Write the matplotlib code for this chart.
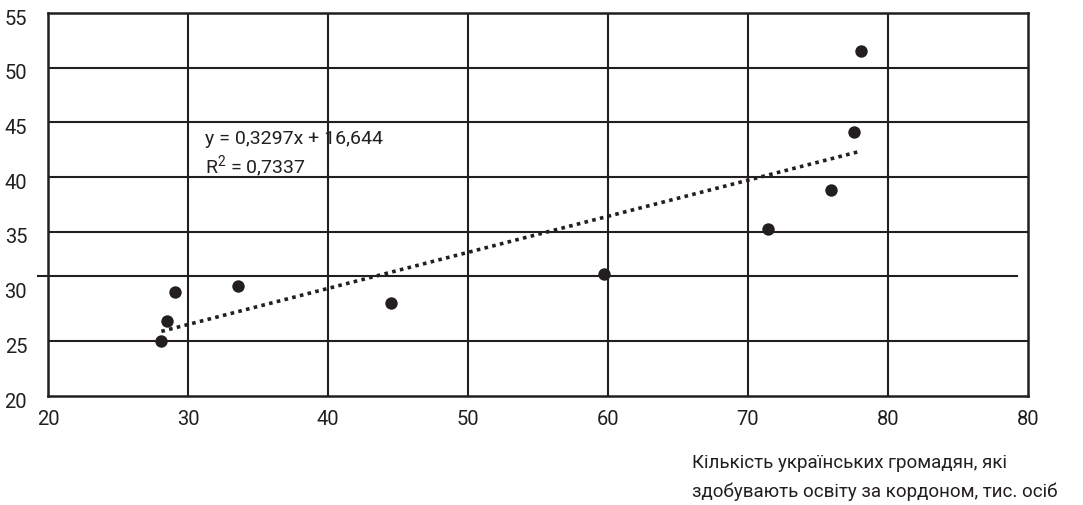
import numpy as np
import matplotlib.pyplot as plt
import matplotlib.transforms as mtransforms
from matplotlib.lines import Line2D

plt.rcParams['font.family'] = ['Roboto', 'DejaVu Sans']
plt.rcParams['mathtext.fontset'] = 'custom'
plt.rcParams['mathtext.rm'] = 'Roboto'

# data
students_abroad = [28.1, 28.5, 29.1, 33.6, 44.5, 59.7, 71.4, 75.9, 77.6, 78.1]
indicator = [25.0, 26.9, 29.5, 30.05, 28.5, 31.15, 35.3, 38.8, 44.1, 51.5]

# trend line as printed on the chart
slope = 0.3297
intercept = 16.644
r2 = 0.7337

x_ticks = [20, 30, 40, 50, 60, 70, 80, 90]
x_tick_labels = ['20', '30', '40', '50', '60', '70', '80', '80']
y_ticks = [20, 25, 30, 35, 40, 45, 50, 55]
y_grid = [25, 35, 40, 45, 50]
odd_line_y = 31.0  # the "30" line sits a bit above 30 in the original

ink = '#231f20'

fig = plt.figure(figsize=(10.83, 5.05), dpi=100)
ax = fig.add_axes([0.0443, 0.2158, 0.9049, 0.7584])

ax.set_xlim(20, 90)
ax.set_ylim(20, 55)

for xv in x_ticks[1:-1]:
    ax.axvline(xv, color=ink, lw=1.5, zorder=1)
for yv in y_grid:
    ax.axhline(yv, color=ink, lw=1.5, zorder=1)
# the line near 30 sticks out on the left and stops short on the right
ax.add_line(Line2D([-0.0102, 0.989], [odd_line_y, odd_line_y], transform=ax.get_yaxis_transform(),
                   color=ink, lw=1.5, clip_on=False, zorder=1))

for sp in ax.spines.values():
    sp.set_color(ink)
    sp.set_linewidth(1.8)

xs = np.array([min(students_abroad), max(students_abroad)])
ax.plot(xs, slope * xs + intercept, color=ink, lw=2.6, linestyle=(0, (1, 1.2)),
        dash_capstyle='butt', zorder=2)

ax.scatter(students_abroad, indicator, s=80, color=ink, zorder=3, linewidths=0)

ax.set_xticks(x_ticks)
ax.set_xticklabels(x_tick_labels)
ax.set_yticks(y_ticks)
ax.tick_params(length=0, labelsize=14.5, colors=ink)
ax.tick_params(axis='x', pad=10)
ax.tick_params(axis='y', pad=15)
shift = mtransforms.ScaledTranslation(0, -4 / 100, fig.dpi_scale_trans)
for lab in ax.get_yticklabels():
    lab.set_transform(lab.get_transform() + shift)

eq = 'y = {:.4f}x + {:.3f}'.format(slope, intercept).replace('.', ',')
ax.text(31.2, 43.45, eq, fontsize=14, color=ink, va='center')
ax.text(31.2, 41.0, 'R$^{\\mathrm{2}}$' + ' = ' + '{:.4f}'.format(r2).replace('.', ','),
        fontsize=14, color=ink, va='center')

fig.text(692 / 1083, 1 - 463 / 505, 'Кількість українських громадян, які', fontsize=13.5,
         color=ink, va='center', ha='left')
fig.text(692 / 1083, 1 - 492 / 505, 'здобувають освіту за кордоном, тис. осіб', fontsize=13.5,
         color=ink, va='center', ha='left')

fig.savefig('out.png', dpi=100)
